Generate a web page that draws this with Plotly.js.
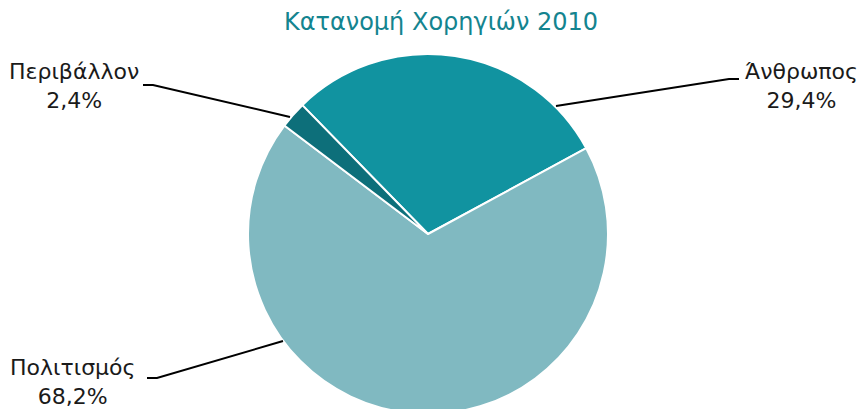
<!DOCTYPE html>
<html>
<head>
<meta charset="utf-8">
<script src="https://cdn.plot.ly/plotly-3.0.1.min.js"></script>
<style>
html,body{margin:0;padding:0;overflow:hidden;background:#fff;}
#chart{width:865px;height:430px;}
</style>
</head>
<body>
<div id="chart"></div>
<script>
// Data
const categories = ["Άνθρωπος", "Πολιτισμός", "Περιβάλλον"];
const shares = [29.4, 68.2, 2.4];
const colors = ["#1193A0", "#80B9C1", "#0D6F7A"];
const chartTitle = "Κατανομή Χορηγιών 2010";

const W = 865, H = 430, T = 54, B = 16;
const plotH = H - T - B;
const px = x => x / W;
const py = y => (H - B - y) / plotH;

const FONT = "DejaVu Sans, sans-serif";

// Label placement (pixels): text center, leader line points
const labelLayout = {
  "Άνθρωπος":   {tx: 801, ty: 86,  line: [[556,106],[729,79],[739,79]]},
  "Περιβάλλον": {tx: 74,  ty: 86,  line: [[290,117],[153,85],[143,85]]},
  "Πολιτισμός": {tx: 72,  ty: 382, line: [[283,341],[157,378],[147,378]]}
};

const fmt = v => v.toFixed(1).replace(".", ",") + "%";

const annotations = [];
const shapes = [];
categories.forEach((c, i) => {
  const L = labelLayout[c];
  annotations.push({
    xref: "paper", yref: "paper",
    x: px(L.tx), y: py(L.ty),
    xanchor: "center", yanchor: "middle",
    text: c + "<br>" + fmt(shares[i]),
    showarrow: false, align: "center",
    font: {family: FONT, size: 22, color: "#1a1a1a"}
  });
  const path = L.line.map((p, k) => (k ? "L" : "M") + px(p[0]) + "," + py(p[1])).join(" ");
  shapes.push({type: "path", xref: "paper", yref: "paper", path: path,
    line: {color: "#000", width: 2}});
});

const trace = {
  type: "pie",
  labels: categories,
  values: shares,
  sort: false,
  direction: "clockwise",
  rotation: -44.3,
  marker: {colors: colors, line: {color: "#fff", width: 2}},
  textinfo: "none",
  hoverinfo: "label+percent",
  domain: {x: [(428 - 180) / W, (428 + 180) / W], y: [0, 1]},
  showlegend: false
};

const layout = {
  width: W, height: H,
  margin: {l: 0, r: 0, t: T, b: B},
  paper_bgcolor: "#fff",
  title: {text: chartTitle, x: 441 / W, xanchor: "center", y: 1 - 22 / H, yanchor: "middle",
    font: {family: FONT, size: 24, color: "#14848F"}},
  annotations: annotations,
  shapes: shapes
};

Plotly.newPlot("chart", [trace], layout, {displayModeBar: false, staticPlot: true});
</script>
</body>
</html>
